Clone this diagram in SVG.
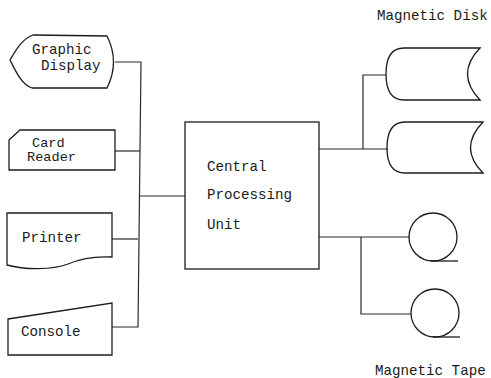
<svg xmlns="http://www.w3.org/2000/svg" width="491" height="378" viewBox="0 0 491 378">
  <style>
    .shape { fill: none; stroke: #1c1c1c; stroke-width: 1.3; stroke-linejoin: miter; }
    .wire { fill: none; stroke: #2a2a2a; stroke-width: 1.2; }
    .label { font-family: "Liberation Mono", "DejaVu Sans Mono", monospace; font-size: 14.2px; fill: #1a1a1a; }
    .tight { font-size: 13.6px; }
  </style>
  <rect width="491" height="378" fill="#ffffff"/>

  <g id="connectors">
    <!-- input bus on the left -->
    <path class="wire" d="M115 62 H141 L138 327 H112"/>
    <path class="wire" d="M115 151 H140"/>
    <path class="wire" d="M112 239 H138"/>
    <path class="wire" d="M140 196 H185"/>
    <!-- disk branch -->
    <path class="wire" d="M319 149 H388"/>
    <path class="wire" d="M363 149 V75 H386"/>
    <!-- tape branch -->
    <path class="wire" d="M319 237 H409"/>
    <path class="wire" d="M361 237 V314 H411"/>
  </g>

  <g id="graphic-display">
    <!-- pointed left end, rounded right end -->
    <path class="shape" d="M33 35 L107 36 Q120 62 107 88 L32 88 C22 85 16 72 10 60 C16 50 22 39 33 35 Z"/>
    <text class="label" x="32" y="54">Graphic</text>
    <text class="label" x="41" y="70">Display</text>
  </g>

  <g id="card-reader">
    <path class="shape" d="M20 130 H115 V170 H9 V140 Z"/>
    <text class="label tight" x="32" y="147">Card</text>
    <text class="label tight" x="27" y="161">Reader</text>
  </g>

  <g id="printer">
    <path class="shape" d="M7 213 H112 V257 C95 256 82 258 68 264 C52 270 25 270 7 265 Z"/>
    <text class="label" x="22" y="242">Printer</text>
  </g>

  <g id="console">
    <path class="shape" d="M8 319 L112 303 V355 H8 Z"/>
    <text class="label" x="21" y="336">Console</text>
  </g>

  <g id="cpu">
    <rect class="shape" x="185" y="122" width="134" height="147"/>
    <text class="label" x="207" y="171">Central</text>
    <text class="label" x="207" y="199">Processing</text>
    <text class="label" x="207" y="229">Unit</text>
  </g>

  <g id="disk-1">
    <path class="shape" d="M404 48 H480 Q455 74 480 100 H404 Q386 100 386 74 Q386 48 404 48 Z"/>
  </g>

  <g id="disk-2">
    <path class="shape" d="M405 122 H483 Q458 148 483 173 H405 Q387 173 387 148 Q387 122 405 122 Z"/>
  </g>

  <g id="tape-1">
    <circle class="shape" cx="433" cy="237" r="24"/>
    <path class="shape" d="M431 261 H458"/>
  </g>

  <g id="tape-2">
    <circle class="shape" cx="435" cy="313" r="24"/>
    <path class="shape" d="M433 337 H460"/>
  </g>

  <g id="captions">
    <text class="label" x="377" y="20">Magnetic Disk</text>
    <text class="label" x="375" y="375">Magnetic Tape</text>
  </g>
</svg>
